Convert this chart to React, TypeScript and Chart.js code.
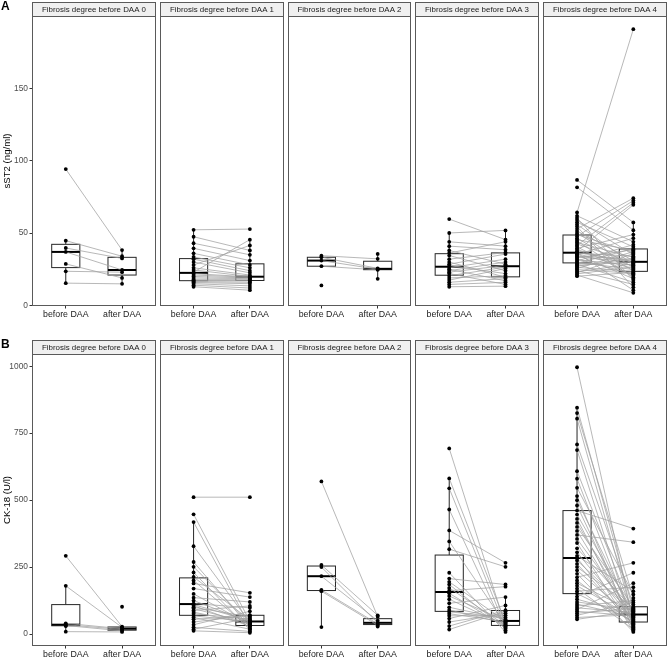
import React, { useEffect, useRef } from "react";
import { Chart, registerables } from "chart.js";

Chart.register(...registerables);

const FONT = '"Liberation Sans", Arial, Helvetica, sans-serif';

// ---------- labels ----------
const facetLabels = [
  "Fibrosis degree before DAA 0",
  "Fibrosis degree before DAA 1",
  "Fibrosis degree before DAA 2",
  "Fibrosis degree before DAA 3",
  "Fibrosis degree before DAA 4",
];
const timeLabels = ["before DAA", "after DAA"];
const sst2Ticks = [0, 50, 100, 150];
const ck18Ticks = [0, 250, 500, 750, 1000];

// ---------- sST2 (ng/ml): paired values (index j = same patient) ----------
const sst2Before0 = [94.3, 44.8, 39.7, 37.0, 28.7, 23.6, 15.4];
const sst2After0 = [38.3, 34.0, 32.5, 24.5, 19.0, 23.0, 14.9];

const sst2Before1 = [52.3, 47.5, 43, 39.5, 36, 33.5, 32, 30, 28, 26, 24.5, 23, 22, 21, 20, 19, 18, 17.2, 16.8, 16.3, 15.8, 15, 14, 12.9];
const sst2After1 = [52.8, 38, 35, 31, 28, 26, 24, 22.5, 41.5, 21, 20, 45.5, 19.7, 19.5, 19, 18.5, 18, 17.3, 17, 16, 15, 13.5, 12, 10.5];

const sst2Before2 = [34.4, 33.3, 31.0, 27.1, 13.8, null, null];
const sst2After2 = [32.2, 25.6, 25.0, 24.6, null, 35.6, 18.4];

const sst2Before3 = [59.7, 50.1, 44, 41, 38, 36.2, 34.5, 32, 30, 28.5, 27.5, 26, 25, 24, 23, 22, 20.5, 19, 17.5, 16, 14.5, 12.9];
const sst2After3 = [45.5, 51.9, 41, 38.5, 28.5, 44, 24, 36.6, 19.5, 35.5, 22, 32, 17, 30, 27.7, 14.5, 26.5, 20.5, 25.5, 18.5, 16, 13.3];

const sst2Before4 = [86.8, 81.7, 64.3, 62.0, 60.5, 59.0, 57.5, 56.0, 54.5, 53.0, 51.5, 50.0, 49.0, 47.8, 46.5, 45.5, 44.5, 43.5, 42.5, 41.5, 40.5, 39.5, 38.5, 37.5, 36.6, 36.3, 36.1, 35.8, 35.3, 34.8, 34.2, 33.6, 33.0, 32.2, 31.5, 30.8, 30.0, 29.2, 28.5, 27.8, 27.0, 26.3, 25.5, 24.8, 24.0, 23.2, 22.5, 21.8, 21.0, 20.2];
const sst2After4 = [57.4, 52.0, 191.1, 44.0, 17.5, 35.0, 40.5, 28.3, 12.5, 74.2, 31.0, 26.2, 36.5, 72.5, 24.0, 38.0, 19.5, 33.3, 29.3, 71.0, 20.5, 49.0, 27.3, 69.6, 30.3, 10.5, 34.0, 25.5, 46.5, 18.5, 31.8, 29.7, 38.6, 21.5, 27.8, 42.0, 24.8, 39.2, 16.0, 30.0, 32.5, 23.4, 37.2, 22.2, 14.5, 28.8, 35.8, 26.8, 8.7, 22.8];

// ---------- CK-18 (U/l): paired values ----------
const ck18Before0 = [292, 180, 40, 35, 32, 9, 30, null];
const ck18After0 = [28, 25, 20, 17, 12, 8, null, 102];

const ck18Before1 = [511, 447, 418, 328, 269, 251, 230, 213, 200, 189, 170, 150, 136, 125, 114, 110, 106, 100, 95, 88, 82, 76, 68, 62, 55, 45, 35, 25, 18, 12];
const ck18After1 = [511, 48, 31, 43, 26, 39, 15, 53, 22, 154, 138, 35, 120, 45, 98, 50, 29, 64, 41, 105, 37, 56, 46, 18, 69, 70.5, 85, 10, 60, 5];

const ck18Before2 = [570, 258, 250, 216, 165, 160, 26, null];
const ck18After2 = [65, 70, 42, 50, 38, 33, null, 28];

const ck18Before3 = [693, 581, 544, 465, 387, 346, 317, 229, 207, 195, 185, 172, 162, 152, 142, 130, 115, 100, 90, 83, 76, 68, 58, 45, 30, 17];
const ck18After3 = [30, 44, 24, 14, 266, 36, 251, 8, 185, 48, 20, 33, 177, 27, 50, 32, 138, 55, 40, 62, 46, 70, 107, 78, 89, 85];

const ck18Before4 = [996, 845, 825, 804, 708, 687, 608, 580, 546, 515, 500, 480, 461, 446, 430, 415, 400, 385, 370, 355, 340, 320, 305, 292, 284, 275, 262, 250, 238, 225, 212, 200, 190, 180, 170, 160, 151, 140, 130, 120, 112, 105, 98, 92, 85, 78, 70, 62, 55];
const ck18After4 = [45, 88, 135, 60, 110, 28, 75, 37, 148, 15, 66, 31, 394, 82, 22, 54, 102, 42, 343, 70, 12, 93, 51, 160, 25, 77, 34, 99, 57, 8, 266, 40, 84, 62, 18, 175, 48, 229, 73, 90, 64, 125, 80, 190, 68, 96, 118, 72, 86];

// ---------- geometry in facet units ----------
const GAP = 4 / 124;
const CAT_POS = [0.6 / 2.2, 1.6 / 2.2];
const BOX_HALF = 0.25 / 2.2;
const X_MAX = 5 + 4 * GAP;
const facetStart = (i: number) => i * (1 + GAP);

type Row = {
  before: (number | null)[][];
  after: (number | null)[][];
  ticks: number[];
  title: string;
  letter: string;
  padTop: number;
  xAxisHeight: number;
  stripTop: number;
  height: number;
};

const rowA: Row = {
  before: [sst2Before0, sst2Before1, sst2Before2, sst2Before3, sst2Before4],
  after: [sst2After0, sst2After1, sst2After2, sst2After3, sst2After4],
  ticks: sst2Ticks,
  title: "sST2 (ng/ml)",
  letter: "A",
  padTop: 16,
  xAxisHeight: 24,
  stripTop: 2,
  height: 330,
};

const rowB: Row = {
  before: [ck18Before0, ck18Before1, ck18Before2, ck18Before3, ck18Before4],
  after: [ck18After0, ck18After1, ck18After2, ck18After3, ck18After4],
  ticks: ck18Ticks,
  title: "CK-18 (U/l)",
  letter: "B",
  padTop: 24,
  xAxisHeight: 11,
  stripTop: 10,
  height: 327,
};

function quant(s: number[], p: number) {
  const h = (s.length - 1) * p;
  const lo = Math.floor(h);
  const hi = Math.min(lo + 1, s.length - 1);
  return s[lo] + (h - lo) * (s[hi] - s[lo]);
}

function boxStats(vals: (number | null)[]) {
  const s = (vals.filter((v) => v != null) as number[]).sort((a, b) => a - b);
  const q1 = quant(s, 0.25);
  const med = quant(s, 0.5);
  const q3 = quant(s, 0.75);
  const iqr = q3 - q1;
  const lo = s.find((v) => v >= q1 - 1.5 * iqr) as number;
  const hi = [...s].reverse().find((v) => v <= q3 + 1.5 * iqr) as number;
  return { q1, med, q3, lo, hi };
}

function makePlugin(row: Row) {
  return {
    id: "facets" + row.letter,
    beforeDatasetsDraw(chart: any) {
      const { ctx, scales } = chart;
      const x = scales.x;
      const y = scales.y;
      ctx.save();
      for (let i = 0; i < 5; i++) {
        const groups = [row.before[i], row.after[i]];
        groups.forEach((vals, k) => {
          const st = boxStats(vals);
          const cx = x.getPixelForValue(facetStart(i) + CAT_POS[k]);
          const x0 = x.getPixelForValue(facetStart(i) + CAT_POS[k] - BOX_HALF);
          const x1 = x.getPixelForValue(facetStart(i) + CAT_POS[k] + BOX_HALF);
          const pq1 = y.getPixelForValue(st.q1);
          const pq3 = y.getPixelForValue(st.q3);
          const pmed = y.getPixelForValue(st.med);
          ctx.strokeStyle = "#262626";
          ctx.lineWidth = 1;
          ctx.beginPath();
          ctx.moveTo(cx, y.getPixelForValue(st.hi));
          ctx.lineTo(cx, pq3);
          ctx.moveTo(cx, pq1);
          ctx.lineTo(cx, y.getPixelForValue(st.lo));
          ctx.stroke();
          ctx.fillStyle = "#ffffff";
          ctx.fillRect(x0, pq3, x1 - x0, pq1 - pq3);
          ctx.strokeRect(x0, pq3, x1 - x0, pq1 - pq3);
          ctx.lineWidth = 2;
          ctx.strokeStyle = "#000000";
          ctx.beginPath();
          ctx.moveTo(x0, pmed);
          ctx.lineTo(x1, pmed);
          ctx.stroke();
        });
      }
      ctx.restore();
    },
    afterDraw(chart: any) {
      const { ctx, chartArea, scales } = chart;
      const x = scales.x;
      ctx.save();
      ctx.strokeStyle = "#5a5a5a";
      ctx.lineWidth = 1;
      for (let i = 0; i < 5; i++) {
        const l = Math.round(x.getPixelForValue(facetStart(i)));
        const r = Math.round(x.getPixelForValue(facetStart(i) + 1));
        const t = Math.round(chartArea.top);
        const b = Math.round(chartArea.bottom);
        const st = row.stripTop;
        // strip
        ctx.fillStyle = "#f0f0f0";
        ctx.fillRect(l, st, r - l, t - st);
        ctx.strokeRect(l + 0.5, st + 0.5, r - l - 1, t - st);
        // panel border
        ctx.strokeRect(l + 0.5, t + 0.5, r - l - 1, b - t - 1);
        // strip text
        ctx.fillStyle = "#1a1a1a";
        ctx.font = `7.9px ${FONT}`;
        ctx.textAlign = "center";
        ctx.textBaseline = "middle";
        ctx.fillText(facetLabels[i], (l + r) / 2, (st + t) / 2 + 0.5);
      }
      ctx.fillStyle = "#000000";
      ctx.font = `bold 12px ${FONT}`;
      ctx.textAlign = "left";
      ctx.textBaseline = "top";
      ctx.fillText(row.letter, 1, row.stripTop - 1);
      ctx.restore();
    },
  };
}

function makeConfig(row: Row) {
  const all: number[] = [];
  row.before.concat(row.after).forEach((arr) => arr.forEach((v) => { if (v != null) all.push(v); }));
  const dmin = Math.min(...all);
  const dmax = Math.max(...all);
  const pad = (dmax - dmin) * 0.05;

  const pairData: { x: number; y: number | null }[] = [];
  const pointData: { x: number; y: number }[] = [];
  for (let i = 0; i < 5; i++) {
    const fs = facetStart(i);
    const b = row.before[i];
    const a = row.after[i];
    for (let j = 0; j < b.length; j++) {
      const bv = b[j];
      const av = a[j];
      if (bv != null && av != null) {
        pairData.push({ x: fs + CAT_POS[0], y: bv });
        pairData.push({ x: fs + CAT_POS[1], y: av });
        pairData.push({ x: fs + 0.5, y: null });
      }
      if (bv != null) pointData.push({ x: fs + CAT_POS[0], y: bv });
      if (av != null) pointData.push({ x: fs + CAT_POS[1], y: av });
    }
  }
  const xTickVals: number[] = [];
  for (let i = 0; i < 5; i++) {
    xTickVals.push(facetStart(i) + CAT_POS[0], facetStart(i) + CAT_POS[1]);
  }

  return {
    type: "scatter",
    data: {
      datasets: [
        {
          type: "scatter",
          data: pointData,
          order: 1,
          pointRadius: 1.9,
          pointHoverRadius: 1.9,
          pointBorderWidth: 0,
          pointBackgroundColor: "#000000",
          backgroundColor: "#000000",
          borderColor: "#000000",
          showLine: false,
        },
        {
          type: "line",
          data: pairData,
          order: 2,
          borderColor: "#a0a0a0",
          borderWidth: 0.75,
          pointRadius: 0,
          pointHoverRadius: 0,
          spanGaps: false,
          fill: false,
          tension: 0,
        },
      ],
    },
    options: {
      animation: false,
      responsive: false,
      maintainAspectRatio: false,
      events: [],
      layout: { padding: { top: row.padTop, right: 1, bottom: 0, left: 0 } },
      plugins: { legend: { display: false }, tooltip: { enabled: false } },
      scales: {
        x: {
          type: "linear",
          min: 0,
          max: X_MAX,
          afterBuildTicks: (s: any) => {
            s.ticks = xTickVals.map((v) => ({ value: v }));
          },
          afterFit: (s: any) => {
            s.height = row.xAxisHeight;
          },
          ticks: {
            autoSkip: false,
            maxRotation: 0,
            minRotation: 0,
            padding: 1.2,
            color: "#1a1a1a",
            font: { size: 8.8, family: FONT },
            callback: (_v: any, i: number) => timeLabels[i % 2],
          },
          grid: { display: true, drawOnChartArea: false, drawTicks: true, tickLength: 2.5, tickColor: "#333333", lineWidth: 1 },
          border: { display: false },
        },
        y: {
          type: "linear",
          min: dmin - pad,
          max: dmax + pad,
          afterBuildTicks: (s: any) => {
            s.ticks = row.ticks.map((v) => ({ value: v }));
          },
          afterFit: (s: any) => {
            s.width = 32;
          },
          ticks: {
            padding: 1.5,
            color: "#4d4d4d",
            font: { size: 8.4, family: FONT },
            callback: (v: any) => String(v),
          },
          grid: { display: true, drawOnChartArea: false, drawTicks: true, tickLength: 2.5, tickColor: "#333333", lineWidth: 1 },
          border: { display: false },
          title: {
            display: true,
            text: row.title,
            color: "#000000",
            font: { size: 9.6, family: FONT },
            padding: { top: 1.2, bottom: 0 },
          },
        },
      },
    },
    plugins: [makePlugin(row)],
  };
}

function FacetRow({ row, top }: { row: Row; top: number }) {
  const ref = useRef<HTMLCanvasElement | null>(null);
  useEffect(() => {
    const chart = new Chart(ref.current as HTMLCanvasElement, makeConfig(row) as any);
    return () => chart.destroy();
  }, [row]);
  return (
    <canvas
      ref={ref}
      width={669}
      height={row.height}
      style={{ position: "absolute", left: 0, top, width: 669, height: row.height }}
    />
  );
}

export default function App() {
  return (
    <div style={{ position: "absolute", left: 0, top: 0, width: 669, height: 657, background: "#ffffff", overflow: "hidden" }}>
      <FacetRow row={rowA} top={0} />
      <FacetRow row={rowB} top={330} />
    </div>
  );
}
